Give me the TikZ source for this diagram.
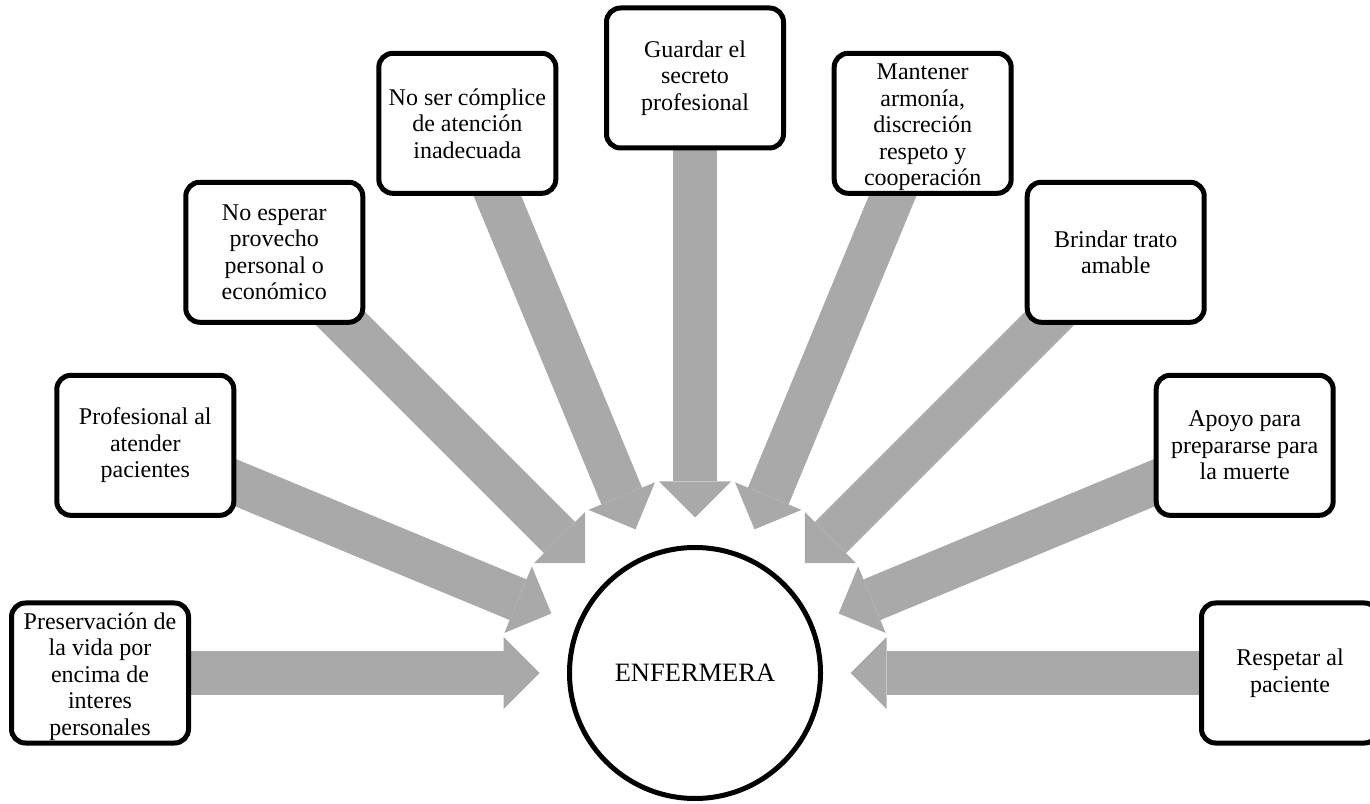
\documentclass[tikz,border=0pt]{standalone}
\usepackage{fontspec}
\setmainfont{Liberation Serif}
\usetikzlibrary{arrows.meta,calc}
\pgfdeclarelayer{background}
\pgfsetlayers{background,main}
\definecolor{arrowgray}{HTML}{A9A9A9}
% taller first line, so that a five-line text sits a little lower in its box
\newcommand{\lowerstart}{\rule{0pt}{23.5pt}}
\begin{document}
\begin{tikzpicture}[x=1pt,y=1pt,
  value/.style={draw, line width=5pt, rounded corners=14pt, fill=white,
    minimum width=177pt, minimum height=140pt, inner sep=0pt, align=center,
    font=\fontsize{24}{26.5}\selectfont},
  hub/.style={circle, draw, line width=5pt, fill=white, minimum size=251pt,
    inner sep=0pt, font=\fontsize{26.5}{30}\selectfont},
  flow/.style={draw=arrowgray, line width=44pt, shorten >=27.5pt,
    -{Triangle[length=36pt,width=72pt,line width=0pt]}}]
\useasboundingbox (0,0) rectangle (1370,803);
\coordinate (C) at (695,130);
\node[hub] (E) at (C) {ENFERMERA};

% values arranged on a half circle around the hub
\node[value] (v1) at ($(C)+(180:595)$) {\lowerstart Preservación de\\la vida por\\encima de\\interes\\personales};
\node[value] (v2) at ($(C)+(157.5:595)$) {Profesional al\\atender\\pacientes};
\node[value] (v3) at ($(C)+(135:595)$) {No esperar\\provecho\\personal o\\económico};
\node[value] (v4) at ($(C)+(112.5:595)$) {No ser cómplice\\de atención\\inadecuada};
\node[value] (v5) at ($(C)+(90:595)$) {Guardar el\\secreto\\profesional};
\node[value] (v6) at ($(C)+(67.5:595)$) {\lowerstart Mantener\\armonía,\\discreción\\respeto y\\cooperación};
\node[value] (v7) at ($(C)+(45:595)$) {Brindar trato\\amable};
\node[value] (v8) at ($(C)+(22.5:595)$) {Apoyo para\\prepararse para\\la muerte};
\node[value] (v9) at ($(C)+(0:595)$) {Respetar al\\paciente};

% broad arrows from every value towards the hub
\begin{pgfonlayer}{background}
\foreach \v in {v1,v2,v3,v4,v5,v6,v7,v8,v9}
  \draw[flow] (\v.center) -- (E);
\end{pgfonlayer}
\end{tikzpicture}
\end{document}
